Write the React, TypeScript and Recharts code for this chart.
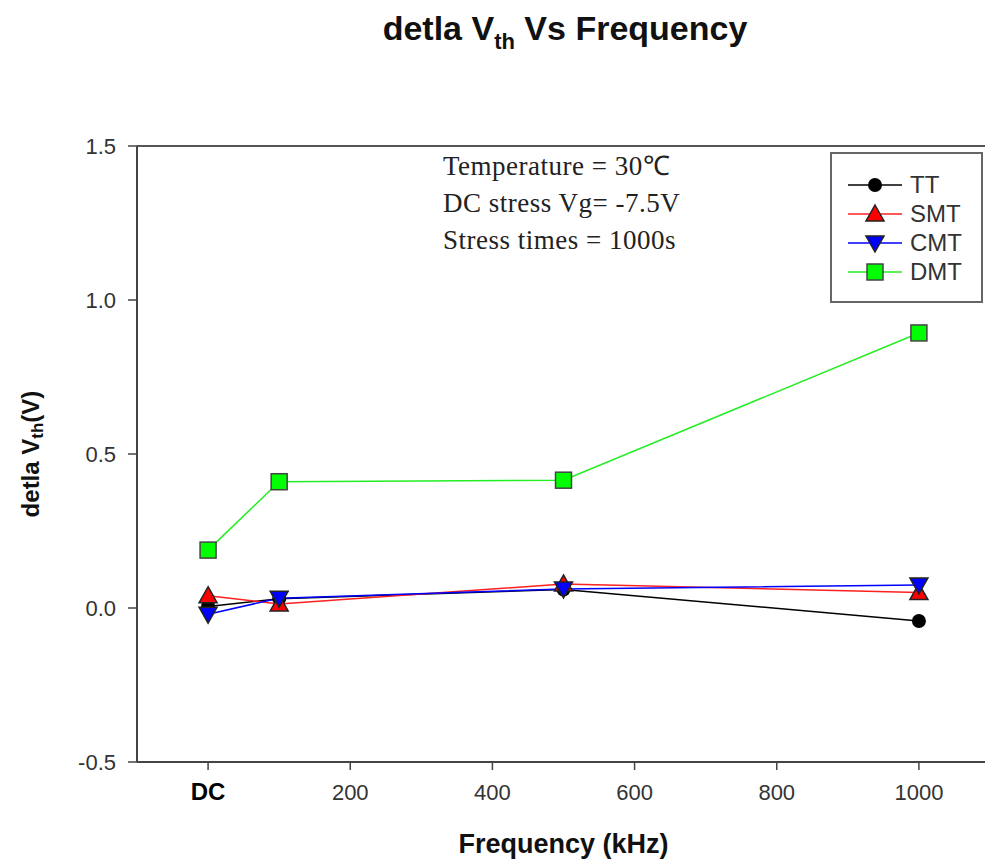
import React from 'react';
import { LineChart, Line, XAxis, YAxis, Legend, ReferenceLine, Label } from 'recharts';

// frequency in kHz, 0 is the DC point
const frequencies = [0, 100, 500, 1000];
const ttValues = [0.005, 0.03, 0.06, -0.042];
const smtValues = [0.04, 0.013, 0.078, 0.05];
const cmtValues = [-0.02, 0.032, 0.062, 0.075];
const dmtValues = [0.188, 0.41, 0.415, 0.893];

const xTicks = [0, 200, 400, 600, 800, 1000];
const yTicks = [-0.5, 0, 0.5, 1.0, 1.5];
const noteLines = ['Temperature = 30℃', 'DC stress Vg= -7.5V', 'Stress times = 1000s'];

const data = frequencies.map((f, i) => ({
  freq: f,
  TT: ttValues[i],
  SMT: smtValues[i],
  CMT: cmtValues[i],
  DMT: dmtValues[i],
}));

type Kind = 'circle' | 'up' | 'down' | 'square';

const series: { key: string; line: string; kind: Kind }[] = [
  { key: 'TT', line: '#000000', kind: 'circle' },
  { key: 'SMT', line: '#ff2020', kind: 'up' },
  { key: 'CMT', line: '#0000ff', kind: 'down' },
  { key: 'DMT', line: '#22ee22', kind: 'square' },
];

const SANS = 'Liberation Sans, Arial, sans-serif';

function Marker({ kind, cx, cy }: { kind: Kind; cx: number; cy: number }) {
  if (cx == null || cy == null) return null;
  switch (kind) {
    case 'circle':
      return <circle cx={cx} cy={cy} r={7} fill="#000" />;
    case 'up':
      return (
        <polygon
          points={`${cx},${cy - 9} ${cx + 9},${cy + 7} ${cx - 9},${cy + 7}`}
          fill="#ff0000"
          stroke="#222"
          strokeWidth={1.5}
        />
      );
    case 'down':
      return (
        <polygon
          points={`${cx},${cy + 9} ${cx + 9},${cy - 7} ${cx - 9},${cy - 7}`}
          fill="#0000ff"
          stroke="#222"
          strokeWidth={1.5}
        />
      );
    default:
      return (
        <rect x={cx - 8} y={cy - 8} width={16} height={16} fill="#00ff00" stroke="#444" strokeWidth={1.5} />
      );
  }
}

function XTick(props: any) {
  const { x, y, payload } = props;
  const isDC = payload.value === 0;
  return (
    <text
      x={x}
      y={y + 28}
      textAnchor="middle"
      fontFamily={SANS}
      fontWeight={isDC ? 'bold' : 'normal'}
      fontSize={isDC ? 24 : 22}
      fill={isDC ? '#000' : '#333'}
    >
      {isDC ? 'DC' : payload.value}
    </text>
  );
}

function YTick(props: any) {
  const { x, y, payload } = props;
  return (
    <text x={x} y={y + 8} textAnchor="end" fontFamily={SANS} fontSize={22} fill="#333">
      {payload.value.toFixed(1)}
    </text>
  );
}

function YTitle(props: any) {
  const { viewBox } = props;
  const cy = viewBox.y + viewBox.height / 2;
  const cx = 30;
  return (
    <text
      x={cx}
      y={cy}
      transform={`rotate(-90, ${cx}, ${cy})`}
      textAnchor="middle"
      dominantBaseline="central"
      fontFamily={SANS}
      fontWeight="bold"
      fontSize={24}
      fill="#111"
    >
      detla V
      <tspan dy={7} fontSize={17}>th</tspan>
      <tspan dy={-7}>(V)</tspan>
    </text>
  );
}

function LegendBox(props: any) {
  const payload = [...(props.payload || [])].sort(
    (a: any, b: any) => series.findIndex((s) => s.key === a.value) - series.findIndex((s) => s.key === b.value)
  );
  return (
    <div
      style={{
        border: '2px solid #666',
        background: '#fff',
        width: 149,
        height: 131,
        boxSizing: 'content-box',
        paddingTop: 16,
      }}
    >
      {payload.map((entry: any) => {
        const s = series.find((d) => d.key === entry.value)!;
        return (
          <div key={entry.value} style={{ display: 'flex', alignItems: 'center', height: 29 }}>
            <svg width={74} height={24} style={{ display: 'block' }}>
              <line x1={16} x2={70} y1={12} y2={12} stroke={s.line} strokeWidth={1.5} />
              <Marker kind={s.kind} cx={43} cy={12} />
            </svg>
            <span style={{ fontFamily: SANS, fontSize: 24, color: '#333', marginLeft: 4 }}>{entry.value}</span>
          </div>
        );
      })}
    </div>
  );
}

export default function App() {
  return (
    <div
      style={{
        position: 'absolute',
        left: 0,
        top: 0,
        width: 985,
        height: 865,
        overflow: 'hidden',
        background: '#fff',
        fontFamily: SANS,
      }}
    >
      <div
        style={{
          position: 'absolute',
          left: 565,
          top: 9,
          transform: 'translateX(-50%)',
          whiteSpace: 'nowrap',
          fontWeight: 'bold',
          fontSize: 34,
          color: '#111',
          lineHeight: '38px',
        }}
      >
        detla V<span style={{ fontSize: 22, position: 'relative', top: 9 }}>th</span> Vs Frequency
      </div>

      <LineChart width={1000} height={865} data={data} margin={{ top: 146, right: 10, bottom: 0, left: 0 }}>
        <XAxis
          dataKey="freq"
          type="number"
          domain={[-100, 1100]}
          ticks={xTicks}
          allowDataOverflow
          height={103}
          axisLine={{ stroke: '#444', strokeWidth: 2 }}
          tickLine={{ stroke: '#444', strokeWidth: 1.5 }}
          tickSize={8}
          tick={<XTick />}
        >
          <Label
            value="Frequency (kHz)"
            position="insideBottom"
            offset={12}
            style={{ fontFamily: SANS, fontWeight: 'bold', fontSize: 27, fill: '#111' }}
          />
        </XAxis>
        <YAxis
          type="number"
          domain={[-0.5, 1.5]}
          ticks={yTicks}
          width={137}
          axisLine={{ stroke: '#444', strokeWidth: 2 }}
          tickLine={{ stroke: '#444', strokeWidth: 1.5 }}
          tickSize={9}
          tickMargin={12}
          tick={<YTick />}
        >
          <Label content={<YTitle />} />
        </YAxis>
        <ReferenceLine y={1.5} stroke="#555" strokeWidth={2} ifOverflow="visible" />
        <Legend
          layout="vertical"
          align="center"
          verticalAlign="middle"
          content={<LegendBox />}
          wrapperStyle={{ position: 'absolute', left: 830, top: 152, width: 153, height: 151 }}
        />
        {series.map((s) => (
          <Line
            key={s.key}
            dataKey={s.key}
            name={s.key}
            stroke={s.line}
            strokeWidth={1.5}
            isAnimationActive={false}
            dot={(p: any) => <Marker key={`${s.key}-${p.index}`} kind={s.kind} cx={p.cx} cy={p.cy} />}
            activeDot={false}
          />
        ))}
      </LineChart>

      <div
        style={{
          position: 'absolute',
          left: 443,
          top: 148,
          fontFamily: '"Liberation Serif", "Times New Roman", serif',
          fontSize: 27,
          letterSpacing: 0.5,
          lineHeight: '37px',
          color: '#222',
          whiteSpace: 'nowrap',
        }}
      >
        {noteLines.map((t) => (
          <div key={t}>{t}</div>
        ))}
      </div>
    </div>
  );
}
